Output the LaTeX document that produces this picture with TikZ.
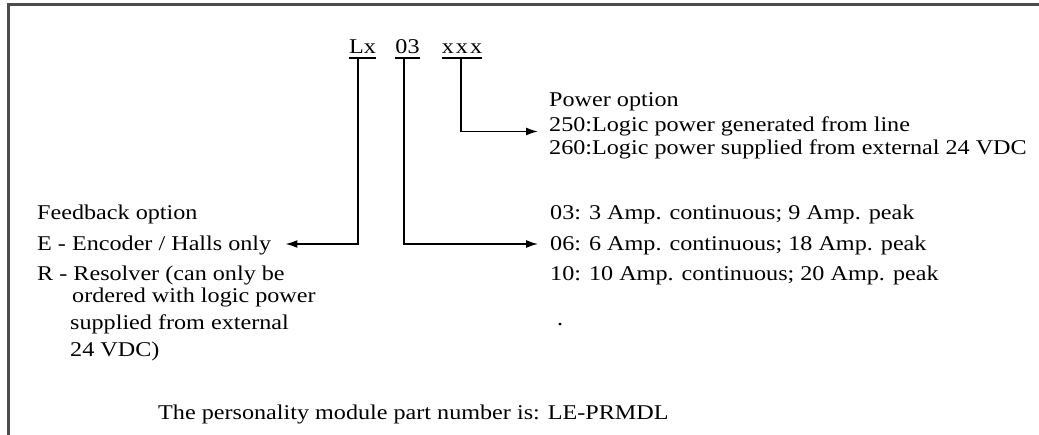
\documentclass[tikz,border=0pt]{standalone}
\usepackage{fontspec}
\setmainfont{Liberation Serif}[FakeStretch=1.15]
\usetikzlibrary{arrows.meta}
\begin{document}
\begin{tikzpicture}[x=1pt,y=-1pt,
  txt/.style={anchor=base west, inner sep=0pt, font=\fontsize{21}{24}\selectfont},
  code/.style={txt, anchor=base},
  conn/.style={line width=1.5pt, -{Latex[length=12pt,width=8pt]}},
  uline/.style={line width=1.2pt},
  frame/.style={draw=black!70, line width=3pt}]
\useasboundingbox (0,0) rectangle (1039,435);
\draw[frame] (1039,5) -- (8,5) -- (8,435);

% part number code
\node[code] (lx)  at (362.5,54) {Lx};
\node[code] (c03) at (407.5,54) {03};
\node[code] (xxx) at (462,54) {x\kern2pt x\kern2pt x};
\foreach \n in {lx,c03,xxx}
  \draw[uline] ([yshift=-4pt]\n.base west) -- ([yshift=-4pt]\n.base east);

% power option
\node[txt] (pwr) at (549,107) {Power option};
\node[txt] (p250) at (549,132) {250:Logic power generated from line};
\node[txt] (p260) at (549,155) {260:Logic power supplied from external 24 VDC};

% current options
\node[txt] (a03) at (550,220) {03: 3 Amp. continuous; 9 Amp. peak};
\node[txt] (a06) at (550,251) {06: 6 Amp. continuous; 18 Amp. peak};
\node[txt] (a10) at (550,281) {10: 10 Amp. continuous; 20 Amp. peak};
\node[txt] (dot) at (557,326) {.};

% feedback option
\node[txt] (fb) at (37,220) {Feedback option};
\node[txt] (fE) at (37,251) {E - Encoder / Halls only};
\node[txt] (fR) at (37,281) {R - Resolver (can only be};
\node[txt] (fR2) at (72,303) {ordered with logic power};
\node[txt] (fR3) at (70,330) {supplied from external};
\node[txt] (fR4) at (70,357) {24 VDC)};

\node[txt] (pm) at (158,420) {The personality module part number is: LE-PRMDL};

% connectors
\coordinate (lxs)  at ([xshift=-4.5pt,yshift=-4pt]lx.base);
\coordinate (c03s) at ([xshift=-3.5pt,yshift=-4pt]c03.base);
\coordinate (xxxs) at ([xshift=-1pt,yshift=-4pt]xxx.base);
\coordinate (Eend) at ([xshift=14pt,yshift=7pt]fE.base east);
\coordinate (e06)  at ([xshift=-12pt,yshift=7pt]a06.base west);
\coordinate (e250) at ([xshift=-11pt,yshift=0.5pt]p250.base west);
\draw[conn] (lxs) |- (Eend);
\draw[conn] (c03s) |- (e06);
\draw[conn] (xxxs) |- (e250);
\end{tikzpicture}
\end{document}
